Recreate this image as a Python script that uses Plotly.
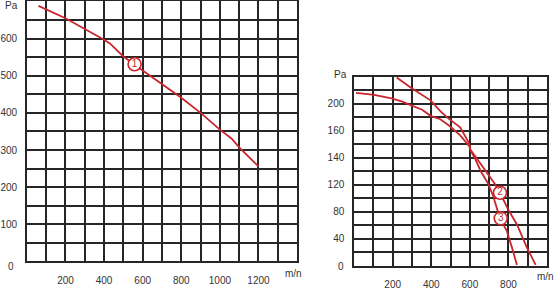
import plotly.graph_objects as go

# ---- data ----
# left chart (curve 1)
c1_x = [60, 200, 400, 430, 500, 600, 800, 900, 1000, 1060, 1100, 1200]
c1_y = [688, 655, 597, 587, 552, 514, 441, 400, 355, 331, 307, 256]
c1_label_x = [558]
c1_label_y = [531]

left_xticks = [200, 400, 600, 800, 1000, 1200]
left_yticks = [100, 200, 300, 400, 500, 600]

# right chart (curves 2, 3); y axis is equally spaced with the printed labels below
c2_x = [221, 293, 396, 447, 485, 550, 597, 602, 638, 679, 730, 756, 797, 844, 895, 941]
c2_y = [279, 264, 245, 229, 219, 205, 181, 172, 158, 141, 121, 108, 84, 61, 27, 1]
c3_x = [10, 104, 194, 250, 293, 353, 396, 447, 495, 550, 597, 602, 628, 658, 694, 720, 756, 792, 818, 844]
c3_y = [256, 253, 248, 243, 238, 231, 222, 217, 207, 193, 177, 172, 158, 139, 122, 104, 70, 51, 27, 1]
c2_label = ([756], [108])
c3_label = ([760], [70])

right_xticks = [200, 400, 600, 800]
right_yticks = [40, 80, 120, 160, 200, 240]
right_yticktext = ["40", "80", "120", "140", "160", "200"]

RED = "#c8262c"
GRID = "#262626"
W, H = 554, 290


def px(x):
    return x / W


def py(y):
    return 1 - y / H


fig = go.Figure()
fig.add_trace(go.Scatter(x=c1_x, y=c1_y, mode="lines", line=dict(color=RED, width=1.8),
                         xaxis="x", yaxis="y", showlegend=False))
fig.add_trace(go.Scatter(x=c2_x, y=c2_y, mode="lines", line=dict(color=RED, width=1.8),
                         xaxis="x2", yaxis="y2", showlegend=False))
fig.add_trace(go.Scatter(x=c3_x, y=c3_y, mode="lines", line=dict(color=RED, width=1.8),
                         xaxis="x2", yaxis="y2", showlegend=False))

marker = dict(symbol="circle", size=13, color="white", line=dict(color=RED, width=1.6))
tfont = dict(family="Liberation Sans, Arial", size=10, color=RED)
fig.add_trace(go.Scatter(x=c1_label_x, y=c1_label_y, mode="markers+text", text=["1"],
                         textposition="middle center", marker=marker, textfont=tfont,
                         xaxis="x", yaxis="y", showlegend=False))
fig.add_trace(go.Scatter(x=c2_label[0], y=c2_label[1], mode="markers+text", text=["2"],
                         textposition="middle center", marker=marker, textfont=tfont,
                         xaxis="x2", yaxis="y2", showlegend=False))
fig.add_trace(go.Scatter(x=c3_label[0], y=c3_label[1], mode="markers+text", text=["3"],
                         textposition="middle center", marker=marker, textfont=tfont,
                         xaxis="x2", yaxis="y2", showlegend=False))

tickfont = dict(family="Liberation Sans, Arial", size=10, color="#333333")
common = dict(showgrid=True, gridcolor=GRID, gridwidth=1.5, showline=True, linecolor=GRID,
              linewidth=1.6, mirror=True, zeroline=False, ticks="", tickfont=tickfont,
              fixedrange=True)

fig.update_layout(
    width=W, height=H, margin=dict(l=0, r=0, t=0, b=0),
    paper_bgcolor="white", plot_bgcolor="white",
    xaxis=dict(domain=[px(24), px(295.7)], range=[0, 1400], tickvals=left_xticks,
               minor=dict(dtick=100, showgrid=True, gridcolor=GRID, gridwidth=1.5),
               ticklabelstandoff=9, anchor="y", **common),
    yaxis=dict(domain=[py(271.7), py(0.5)], range=[0, 700], tickvals=left_yticks,
               minor=dict(dtick=50, showgrid=True, gridcolor=GRID, gridwidth=1.5),
               ticklabelstandoff=6, anchor="x", **common),
    xaxis2=dict(domain=[px(353), px(547)], range=[0, 1000], tickvals=right_xticks,
                minor=dict(dtick=100, showgrid=True, gridcolor=GRID, gridwidth=1.5),
                ticklabelstandoff=9, anchor="y2", **common),
    yaxis2=dict(domain=[py(276), py(79)], range=[0, 280], tickvals=right_yticks,
                ticktext=right_yticktext,
                minor=dict(dtick=20, showgrid=True, gridcolor=GRID, gridwidth=1.5),
                ticklabelstandoff=6, anchor="x2", **common),
    annotations=[
        dict(text="Pa", x=px(9), y=py(5), xref="paper", yref="paper", showarrow=False,
             font=tickfont, xanchor="center", yanchor="middle"),
        dict(text="0", x=px(8), y=py(277), xref="paper", yref="paper", showarrow=False,
             font=tickfont, xanchor="center", yanchor="middle"),
        dict(text="m/n", x=px(292), y=py(284), xref="paper", yref="paper", showarrow=False,
             font=tickfont, xanchor="center", yanchor="middle"),
        dict(text="Pa", x=px(339), y=py(77), xref="paper", yref="paper", showarrow=False,
             font=tickfont, xanchor="center", yanchor="middle"),
        dict(text="0", x=px(340), y=py(277), xref="paper", yref="paper", showarrow=False,
             font=tickfont, xanchor="center", yanchor="middle"),
        dict(text="m/n", x=px(545), y=py(287), xref="paper", yref="paper", showarrow=False,
             font=tickfont, xanchor="center", yanchor="middle"),
    ],
)

fig.write_html("out.html")
